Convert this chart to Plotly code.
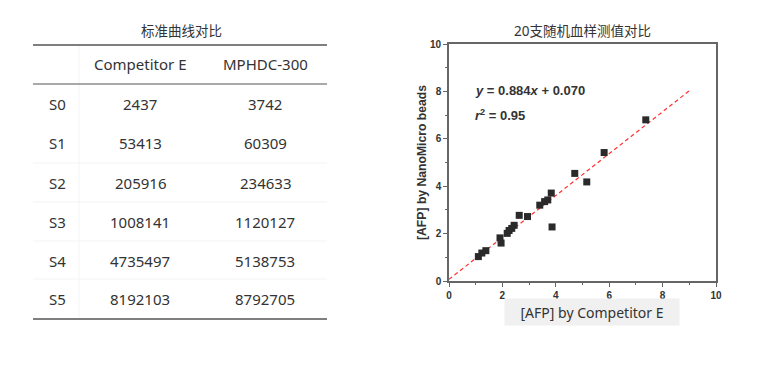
import plotly.graph_objects as go

# ---------------- data ----------------
table_title = "标准曲线对比"
col_headers = ["Competitor E", "MPHDC-300"]
row_labels = ["S0", "S1", "S2", "S3", "S4", "S5"]
competitor_vals = [2437, 53413, 205916, 1008141, 4735497, 8192103]
mphdc_vals = [3742, 60309, 234633, 1120127, 5138753, 8792705]

scatter_title = "20支随机血样测值对比"
x_competitor = [7.37, 5.81, 4.71, 5.16, 3.83, 3.70, 3.58, 3.40, 2.63, 2.94,
                3.86, 2.44, 2.35, 2.25, 2.18, 1.91, 1.95, 1.38, 1.23, 1.10]
y_nanomicro = [6.80, 5.42, 4.54, 4.18, 3.71, 3.42, 3.35, 3.20, 2.77, 2.72,
               2.28, 2.35, 2.22, 2.13, 2.01, 1.82, 1.60, 1.28, 1.18, 1.03]
slope, intercept = 0.884, 0.070
fit_x = [0, 9]
fit_y = [slope * v + intercept for v in fit_x]
r2 = 0.95

# page body has an 8px margin; figure occupies the rest of the window
OFF = 8
W, H = 784 - OFF, 371 - OFF
def px(x):
    return (x - OFF) / W
def py(y):
    return 1 - (y - OFF) / H

FONT = "Noto Sans, Noto Sans CJK SC, sans-serif"
TXT = "#333333"

fig = go.Figure()
fig.add_trace(go.Scatter(x=fit_x, y=fit_y, mode="lines",
                         line=dict(color="#ff3030", width=1.2, dash="4px,3px"),
                         hoverinfo="skip", showlegend=False))
fig.add_trace(go.Scatter(x=x_competitor, y=y_nanomicro, mode="markers",
                         marker=dict(symbol="square", size=7, color="#2a2a2a"),
                         showlegend=False))

axis_common = dict(
    range=[0, 10], dtick=2, ticks="outside", ticklen=4, tickwidth=1.2,
    tickcolor="#666666", showline=True, linecolor="#666666", linewidth=1.6,
    mirror=True, showgrid=False, zeroline=False, automargin=False,
    tickfont=dict(family="Liberation Sans, Arial", size=10, color=TXT, weight="bold"),
    minor=dict(dtick=1, ticks="outside", ticklen=2, tickcolor="#666666", tickwidth=1),
)

fig.update_layout(
    template="none",
    width=W, height=H,
    margin=dict(l=0, r=0, t=0, b=0, pad=0),
    paper_bgcolor="white", plot_bgcolor="white",
    xaxis=dict(domain=[px(449), px(716)], **axis_common),
    yaxis=dict(domain=[py(281), py(44)], **axis_common),
)

ann = []
shapes = []

def text(x, y, s, size=15, family=FONT, xanchor="center", **kw):
    fontkw = kw.pop("fontkw", {})
    ann.append(dict(x=px(x), y=py(y), xref="paper", yref="paper", text=s,
                    xanchor=xanchor, yanchor="middle", showarrow=False,
                    font=dict(family=family, size=size, color=TXT, **fontkw),
                    **kw))

# scatter title
text(582, 31, scatter_title, size=13.5)
# axis titles
text(592, 312, "[AFP] by Competitor E", size=14, width=172, height=24, bgcolor="#f0f0f0")
text(422, 163, "[AFP] by NanoMicro beads", size=12.2, family="Liberation Sans, Arial",
     textangle=-90, fontkw=dict(weight="bold"))
# equation
text(473, 90, f"<b><i>y</i> = {slope:.3f}<i>x</i> + {intercept:.3f}</b>", size=13,
     family="Liberation Sans, Arial", xanchor="left")
text(473, 115, f"<b><i>r</i><sup>2</sup> = {r2:.2f}</b>", size=13,
     family="Liberation Sans, Arial", xanchor="left")

# table
text(181, 31, table_title, size=13.5)
col_x = [140, 265]
header_y = 64
row_ys = [104, 143, 183, 222, 261, 299]
for cx, h in zip(col_x, col_headers):
    text(cx, header_y, h)
for ry, lab, a, b in zip(row_ys, row_labels, competitor_vals, mphdc_vals):
    text(47, ry, lab, xanchor="left")
    text(col_x[0], ry, str(a))
    text(col_x[1], ry, str(b))

def hline(y, color, w):
    shapes.append(dict(type="line", xref="paper", yref="paper",
                       x0=px(33), x1=px(327), y0=py(y), y1=py(y),
                       line=dict(color=color, width=w)))

for y in [163, 202, 241, 279]:
    hline(y, "#f3f3f3", 1)
shapes.append(dict(type="line", xref="paper", yref="paper", x0=px(79), x1=px(79),
                   y0=py(46), y1=py(318), line=dict(color="#f5f5f5", width=1)))
hline(45, "#555555", 1.5)
hline(84, "#555555", 1.2)
hline(319, "#555555", 1.5)

fig.update_layout(annotations=ann, shapes=shapes)
fig.write_html("out.html")
